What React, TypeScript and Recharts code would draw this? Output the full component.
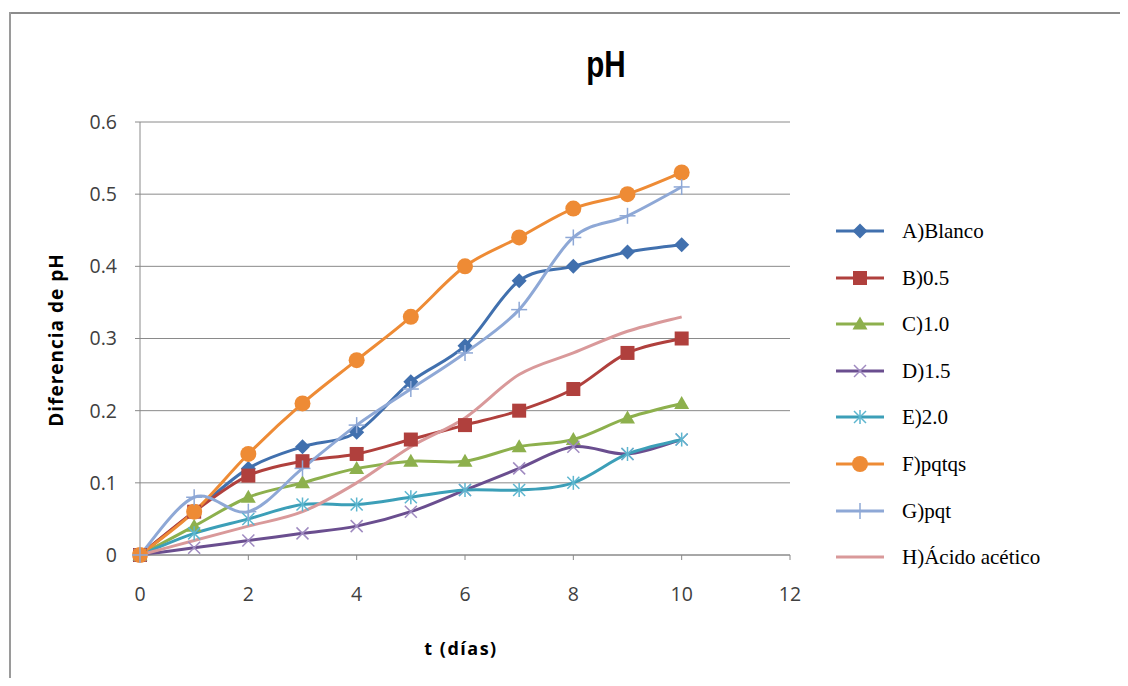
import React from "react";
import { LineChart, Line, XAxis, YAxis, CartesianGrid } from "recharts";

const days = [0, 1, 2, 3, 4, 5, 6, 7, 8, 9, 10];
const blanco = [0, 0.06, 0.12, 0.15, 0.17, 0.24, 0.29, 0.38, 0.4, 0.42, 0.43];
const b05 = [0, 0.06, 0.11, 0.13, 0.14, 0.16, 0.18, 0.2, 0.23, 0.28, 0.3];
const c10 = [0, 0.04, 0.08, 0.1, 0.12, 0.13, 0.13, 0.15, 0.16, 0.19, 0.21];
const d15 = [0, 0.01, 0.02, 0.03, 0.04, 0.06, 0.09, 0.12, 0.15, 0.14, 0.16];
const e20 = [0, 0.03, 0.05, 0.07, 0.07, 0.08, 0.09, 0.09, 0.1, 0.14, 0.16];
const pqtqs = [0, 0.06, 0.14, 0.21, 0.27, 0.33, 0.4, 0.44, 0.48, 0.5, 0.53];
const pqt = [0, 0.08, 0.06, 0.12, 0.18, 0.23, 0.28, 0.34, 0.44, 0.47, 0.51];
const acetico = [0, 0.02, 0.04, 0.06, 0.1, 0.15, 0.19, 0.25, 0.28, 0.31, 0.33];

const yTicks = [0, 0.1, 0.2, 0.3, 0.4, 0.5, 0.6];
const xTicks = [0, 2, 4, 6, 8, 10, 12];

type Shape = "diamond" | "square" | "triangle" | "x" | "star" | "circle" | "plus" | "none";

const series: { key: string; name: string; values: number[]; color: string; marker: string; shape: Shape }[] = [
  { key: "A", name: "A)Blanco", values: blanco, color: "#4170AE", marker: "#4170AE", shape: "diamond" },
  { key: "B", name: "B)0.5", values: b05, color: "#B0403D", marker: "#B0403D", shape: "square" },
  { key: "C", name: "C)1.0", values: c10, color: "#8DB04D", marker: "#8DB04D", shape: "triangle" },
  { key: "D", name: "D)1.5", values: d15, color: "#6A4E8F", marker: "#9F8AC0", shape: "x" },
  { key: "E", name: "E)2.0", values: e20, color: "#3C9FB8", marker: "#5DB6CF", shape: "star" },
  { key: "F", name: "F)pqtqs", values: pqtqs, color: "#EE8B35", marker: "#EE8B35", shape: "circle" },
  { key: "G", name: "G)pqt", values: pqt, color: "#8EA8D6", marker: "#8EA8D6", shape: "plus" },
  { key: "H", name: "H)Ácido acético", values: acetico, color: "#D9999A", marker: "#D9999A", shape: "none" },
];

const data = days.map((d, i) => {
  const row: Record<string, number> = { t: d };
  series.forEach((s) => {
    row[s.key] = s.values[i];
  });
  return row;
});

// Excel-like smoothed line (Catmull-Rom style Bezier), as a d3 curve factory
const smoothCurve: any = (context: any) => {
  let pts: [number, number][] = [];
  return {
    areaStart() {},
    areaEnd() {},
    lineStart() {
      pts = [];
    },
    point(x: number, y: number) {
      pts.push([+x, +y]);
    },
    lineEnd() {
      const n = pts.length;
      if (n === 0) return;
      context.moveTo(pts[0][0], pts[0][1]);
      if (n === 1) return;
      for (let i = 0; i < n - 1; i++) {
        const p0 = pts[Math.max(0, i - 1)];
        const p1 = pts[i];
        const p2 = pts[i + 1];
        const p3 = pts[Math.min(n - 1, i + 2)];
        const c1x = p1[0] + (p2[0] - p0[0]) / 6;
        const c1y = p1[1] + (p2[1] - p0[1]) / 6;
        const c2x = p2[0] - (p3[0] - p1[0]) / 6;
        const c2y = p2[1] - (p3[1] - p1[1]) / 6;
        context.bezierCurveTo(c1x, c1y, c2x, c2y, p2[0], p2[1]);
      }
    },
  };
};

function MarkerShape({ cx, cy, shape, color }: { cx: number; cy: number; shape: Shape; color: string }) {
  switch (shape) {
    case "diamond":
      return <polygon points={`${cx},${cy - 7.5} ${cx + 7.5},${cy} ${cx},${cy + 7.5} ${cx - 7.5},${cy}`} fill={color} />;
    case "square":
      return <rect x={cx - 7} y={cy - 7} width={14} height={14} fill={color} />;
    case "triangle":
      return <polygon points={`${cx},${cy - 7.5} ${cx + 7.5},${cy + 5.5} ${cx - 7.5},${cy + 5.5}`} fill={color} />;
    case "x":
      return (
        <g stroke={color} strokeWidth={1.5}>
          <line x1={cx - 6} y1={cy - 6} x2={cx + 6} y2={cy + 6} />
          <line x1={cx - 6} y1={cy + 6} x2={cx + 6} y2={cy - 6} />
        </g>
      );
    case "star":
      return (
        <g stroke={color} strokeWidth={1.5}>
          <line x1={cx - 6} y1={cy - 6} x2={cx + 6} y2={cy + 6} />
          <line x1={cx - 6} y1={cy + 6} x2={cx + 6} y2={cy - 6} />
          <line x1={cx} y1={cy - 7} x2={cx} y2={cy + 7} />
        </g>
      );
    case "circle":
      return <circle cx={cx} cy={cy} r={8} fill={color} />;
    case "plus":
      return (
        <g stroke={color} strokeWidth={1.5}>
          <line x1={cx} y1={cy - 8} x2={cx} y2={cy + 8} />
          <line x1={cx - 8} y1={cy} x2={cx + 8} y2={cy} />
        </g>
      );
    default:
      return null;
  }
}

const W = 1120;
const H = 670;
const plotLeft = 132;
const plotRight = 782;
const plotTop = 114;
const plotBottom = 547;
const yAxisW = 60;
const xAxisH = 40;

const tickStyle = { fontFamily: "'Open Sans', 'Liberation Sans', sans-serif", fontSize: 19.5, fill: "#404040" };

export default function App() {
  return (
    <div style={{ position: "relative", width: W, height: H, background: "#fff" }}>
      <style>{`html,body{overflow:hidden;}`}</style>
      <div style={{ position: "absolute", left: 1, top: 4, width: W - 1, height: 2, background: "#8c8c8c" }} />
      <div style={{ position: "absolute", left: 1, top: 4, width: 2, height: H - 4, background: "#9a9a9a" }} />
      <div
        style={{
          position: "absolute",
          left: 598 - 100,
          width: 200,
          top: 36,
          textAlign: "center",
          fontFamily: "'Liberation Sans', Arial, sans-serif",
          fontWeight: "bold",
          fontSize: 37,
          color: "#000",
          transform: "scaleX(0.8)",
        }}
      >
        pH
      </div>
      <div
        style={{
          position: "absolute",
          left: 48 - 110,
          top: 332 - 13,
          width: 220,
          height: 26,
          lineHeight: "26px",
          textAlign: "center",
          transform: "rotate(-90deg)",
          fontFamily: "'Open Sans', 'Liberation Sans', sans-serif",
          fontWeight: "bold",
          fontSize: 19,
          letterSpacing: 1,
          color: "#000",
        }}
      >
        Diferencia de pH
      </div>
      <div
        style={{
          position: "absolute",
          left: 453 - 100,
          top: 628,
          width: 200,
          textAlign: "center",
          fontFamily: "'Open Sans', 'Liberation Sans', sans-serif",
          fontWeight: "bold",
          fontSize: 18,
          letterSpacing: 1.5,
          color: "#000",
        }}
      >
        t (días)
      </div>
      <div style={{ position: "absolute", left: 0, top: 0 }}>
        <LineChart
          width={W}
          height={H}
          data={data}
          margin={{
            top: plotTop,
            right: W - plotRight,
            left: plotLeft - yAxisW,
            bottom: H - plotBottom - xAxisH,
          }}
        >
          <CartesianGrid vertical={false} stroke="#8a8a8a" strokeWidth={1} />
          <XAxis
            dataKey="t"
            type="number"
            domain={[0, 12]}
            ticks={xTicks}
            height={xAxisH}
            stroke="#8a8a8a"
            tickSize={5}
            tickMargin={27}
            tick={tickStyle}
            interval={0}
          />
          <YAxis
            type="number"
            domain={[0, 0.6]}
            ticks={yTicks}
            width={yAxisW}
            stroke="#8a8a8a"
            tickSize={5}
            tickMargin={18}
            tick={tickStyle}
            tickFormatter={(v: number) => (v === 0 ? "0" : v.toFixed(1))}
            interval={0}
          />
          {series.map((s) => (
            <Line
              key={s.key}
              dataKey={s.key}
              name={s.name}
              type={smoothCurve}
              stroke={s.color}
              strokeWidth={3}
              isAnimationActive={false}
              activeDot={false}
              dot={
                s.shape === "none"
                  ? false
                  : (p: any) => (
                      <MarkerShape key={`${s.key}-${p.index}`} cx={p.cx} cy={p.cy} shape={s.shape} color={s.marker} />
                    )
              }
            />
          ))}
        </LineChart>
      </div>
      <div style={{ position: "absolute", left: 0, top: 0 }}>
        {series.map((s, i) => {
          const cy = 223 + i * 46.6;
          return (
            <div key={s.key} style={{ position: "absolute", left: 826, top: cy - 14, height: 28, width: 300 }}>
              <svg width={56} height={28} style={{ position: "absolute", left: 0, top: 0 }}>
                <line x1={2} y1={14} x2={50} y2={14} stroke={s.color} strokeWidth={3} />
                <MarkerShape cx={26} cy={14} shape={s.shape} color={s.marker} />
              </svg>
              <span
                style={{
                  position: "absolute",
                  left: 68,
                  top: 0,
                  lineHeight: "28px",
                  fontFamily: "'Liberation Serif', 'Times New Roman', serif",
                  fontSize: 21,
                  color: "#000",
                  whiteSpace: "nowrap",
                }}
              >
                {s.name}
              </span>
            </div>
          );
        })}
      </div>
    </div>
  );
}
